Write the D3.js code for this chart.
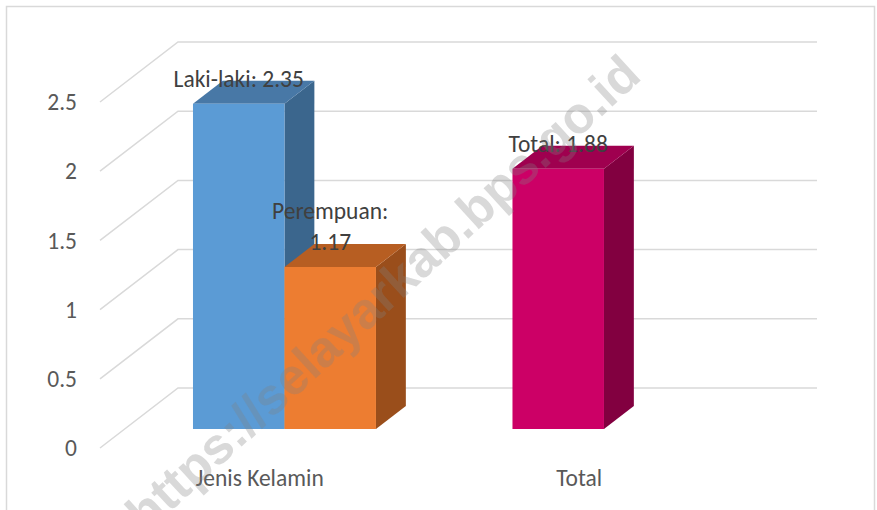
<!DOCTYPE html>
<html>
<head>
<meta charset="utf-8">
<script src="https://cdn.jsdelivr.net/npm/d3@7"></script>
<style>
  body { margin: 0; background: #fff; }
  svg { display: block; font-family: Carlito, Lato, "Open Sans", sans-serif; }
</style>
</head>
<body>
<svg width="877" height="510"></svg>
<script>
// data
var categories = ["Jenis Kelamin", "Total"];
var barNames = ["Laki-laki", "Perempuan", "Total"];
var barCategory = ["Jenis Kelamin", "Jenis Kelamin", "Total"];
var barValues = [2.35, 1.17, 1.88];
var yTicks = [0, 0.5, 1, 1.5, 2, 2.5];

var faceColors = [
  {front: "#5b9bd5", top: "#4878a6", side: "#3b668d"},
  {front: "#ed7d31", top: "#b75e22", side: "#9a4e1b"},
  {front: "#cc0066", top: "#9f004f", side: "#820040"}
];

var svg = d3.select("svg"),
    width = +svg.attr("width"),
    height = +svg.attr("height");

// oblique 3d: depth z in [0,1] shifts right/up
var base = 448,
    depthX = 78,
    depthY = 60,
    barZ0 = 0.317, barZ1 = 0.70;

var fontSize = 23.5;

var x0 = d3.scaleBand().domain(categories).range([100, 739]);
var slots = [0, 1];
var x1 = d3.scaleBand().domain(slots).range([0, x0.bandwidth()]).paddingOuter(0.746).paddingInner(0);
var y = d3.scaleLinear().domain([0, 2.5]).range([0, 346]);

function proj(px, v, z) {
  return [px + z * depthX, base - y(v) - z * depthY];
}

// chart border
svg.append("rect")
  .attr("x", 6.5).attr("y", 6.5)
  .attr("width", 868).attr("height", 530)
  .attr("fill", "none").attr("stroke", "#d9d9d9").attr("stroke-width", 1.5);

// walls: back gridlines and side diagonals
var grid = svg.append("g").attr("stroke", "#d9d9d9").attr("stroke-width", 1.5).attr("fill", "none");
yTicks.forEach(function(t) {
  var a = proj(x0.range()[0], t, 0), b = proj(x0.range()[0], t, 1), c = proj(x0.range()[1], t, 1);
  grid.append("path").attr("d", "M" + a + "L" + b + "L" + c);
});

svg.append("g").selectAll("text")
  .data(yTicks)
  .enter().append("text")
  .attr("x", 77)
  .attr("y", function(d) { return base - y(d); })
  .attr("dy", "0.35em")
  .attr("text-anchor", "end")
  .attr("font-size", fontSize)
  .attr("fill", "#595959")
  .text(function(d) { return d; });

svg.append("g").selectAll("text")
  .data(categories)
  .enter().append("text")
  .attr("x", function(d) { return x0(d) + x0.bandwidth() / 2; })
  .attr("y", base + 38)
  .attr("text-anchor", "middle")
  .attr("font-size", fontSize)
  .attr("fill", "#595959")
  .text(function(d) { return d; });

// bars
var bars = barValues.map(function(v, i) {
  var cat = barCategory[i];
  var slot = barCategory.slice(0, i).filter(function(c) { return c == cat; }).length;
  return {name: barNames[i], cat: cat, slot: slot, value: v, color: faceColors[i]};
});

var barG = svg.append("g");
bars.forEach(function(d) {
  var left = x0(d.cat) + x1(d.slot), right = left + x1.bandwidth();
  var g = barG.append("g");
  var fbl = proj(left, 0, barZ0), fbr = proj(right, 0, barZ0),
      ftl = proj(left, d.value, barZ0), ftr = proj(right, d.value, barZ0),
      btl = proj(left, d.value, barZ1), btr = proj(right, d.value, barZ1),
      bbr = proj(right, 0, barZ1);
  g.append("path").attr("fill", d.color.side)
    .attr("d", "M" + fbr + "L" + ftr + "L" + btr + "L" + bbr + "Z");
  g.append("path").attr("fill", d.color.top)
    .attr("d", "M" + ftl + "L" + ftr + "L" + btr + "L" + btl + "Z");
  g.append("path").attr("fill", d.color.front)
    .attr("d", "M" + fbl + "L" + fbr + "L" + ftr + "L" + ftl + "Z");
});

// data labels
bars.forEach(function(d) {
  var left = x0(d.cat) + x1(d.slot);
  var cx = proj(left + x1.bandwidth() / 2, d.value, barZ0);
  var lines = d.name == "Perempuan" ? [d.name + ":", String(d.value)] : [d.name + ": " + d.value];
  var t = svg.append("text")
    .attr("text-anchor", "middle")
    .attr("font-size", fontSize)
    .attr("fill", "#404040");
  lines.forEach(function(s, k) {
    t.append("tspan")
      .attr("x", cx[0])
      .attr("y", cx[1] - 17 - (lines.length - 1 - k) * 31)
      .text(s);
  });
});

// watermark
svg.append("text")
  .attr("transform", "translate(146,534) rotate(-42.5)")
  .attr("font-family", "'Liberation Sans', Arial, sans-serif")
  .attr("font-weight", "bold")
  .attr("font-size", 51)
  .attr("fill", "#808080")
  .attr("fill-opacity", 0.3)
  .text("https://selayarkab.bps.go.id");
</script>
</body>
</html>
